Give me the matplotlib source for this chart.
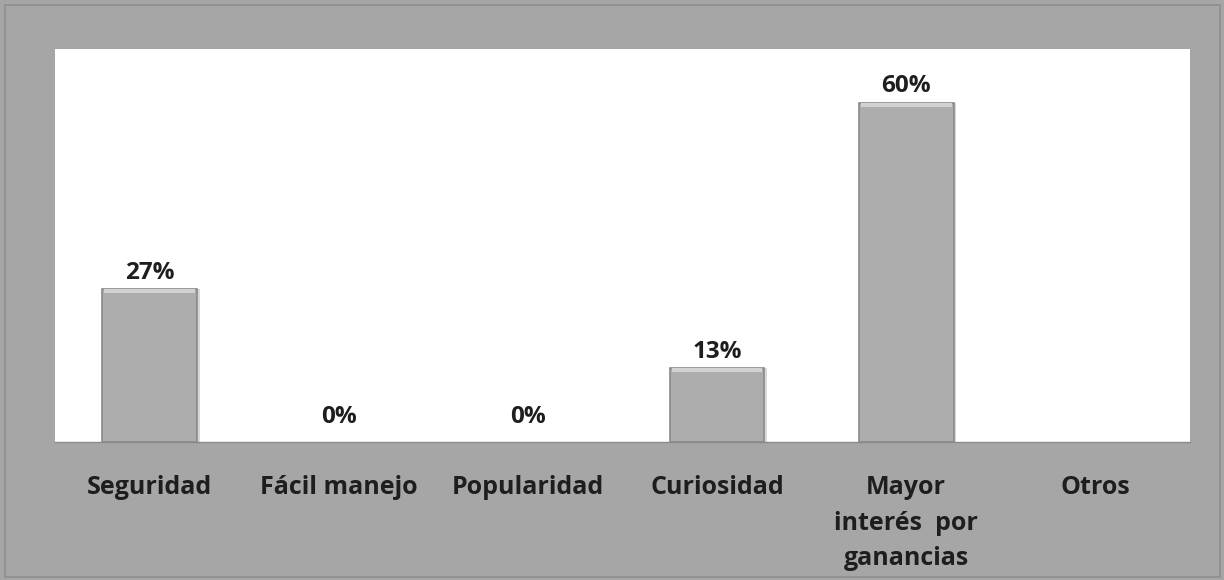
import matplotlib.pyplot as plt
import numpy as np
from matplotlib.patches import Rectangle

categories = ['Seguridad', 'Fácil manejo', 'Popularidad', 'Curiosidad',
              'Mayor\ninterés  por\nganancias', 'Otros']
values = [27, 0, 0, 13, 60, np.nan]
value_labels = ['27%', '0%', '0%', '13%', '60%', '']

plt.rcParams['font.family'] = ['Open Sans', 'DejaVu Sans']

fig = plt.figure(figsize=(12.24, 5.8), dpi=100)
fig.patch.set_facecolor('#a6a6a6')
fig.patches.append(Rectangle((0.004, 0.006), 0.993, 0.985, transform=fig.transFigure,
                             fill=False, edgecolor='#8f8f8f', linewidth=1.2))

ax = fig.add_axes([0.0449, 0.238, 0.9273, 0.6775])
ax.set_facecolor('white')

x = np.arange(len(categories))
bar_vals = np.nan_to_num(values)
shown = bar_vals > 0
# soft shadow
ax.bar(x[shown] + 0.015, bar_vals[shown], width=0.5, color='#d8d8d8', zorder=1)
ax.bar(x[shown], bar_vals[shown], width=0.5, color='#adadad', edgecolor='#8a8a8a',
       linewidth=1.2, zorder=2)
# lighter bevel at the top of each bar
ax.bar(x[shown], 0.7, bottom=bar_vals[shown] - 0.7, width=0.48,
       color='#d2d2d2', linewidth=0, zorder=3)

for xi, v, lab in zip(x, bar_vals, value_labels):
    if lab:
        ax.text(xi, v + 0.8 if v > 0 else 2.3, lab, ha='center', va='bottom',
                fontsize=17.5, fontweight='bold', color='#1e1e1e')

ax.set_xlim(-0.5, len(categories) - 0.5)
ax.set_ylim(0, 69.5)
ax.set_yticks([])
ax.set_xticks(x)
ax.set_xticklabels(categories, fontsize=18, fontweight='bold', color='#1e1e1e',
                   linespacing=1.55)
ax.tick_params(axis='x', length=0, pad=24)

for side in ['top', 'left', 'right']:
    ax.spines[side].set_visible(False)
ax.spines['bottom'].set_color('#8a8a8a')
ax.spines['bottom'].set_linewidth(1.0)

fig.savefig('out.png', dpi=100, facecolor=fig.get_facecolor())
